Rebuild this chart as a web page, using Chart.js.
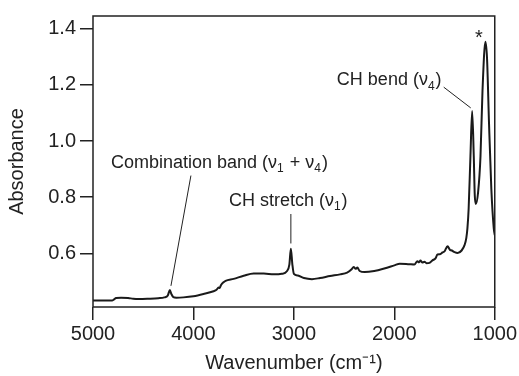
<!DOCTYPE html>
<html>
<head>
<meta charset="utf-8">
<script src="https://cdn.jsdelivr.net/npm/chart.js@4.4.0/dist/chart.umd.min.js"></script>
<style>
  body { margin: 0; background: #fff; }
</style>
</head>
<body>
<canvas id="spectrum" width="519" height="376"></canvas>
<script>
// IR spectrum (wavenumber in cm-1, absorbance)
const wavenumbers = [5000, 4900, 4810, 4790, 4770, 4720, 4650, 4600, 4540, 4450, 4350, 4290, 4255, 4235, 4220, 4200, 4170, 4100, 4000, 3900, 3800, 3770, 3750, 3740, 3725, 3700, 3680, 3600, 3500, 3400, 3300, 3200, 3120, 3070, 3045, 3030, 3015, 3000, 2960, 2900, 2820, 2740, 2640, 2540, 2470, 2425, 2405, 2385, 2368, 2345, 2295, 2200, 2100, 2000, 1945, 1850, 1800, 1770, 1755, 1740, 1720, 1700, 1680, 1650, 1620, 1590, 1570, 1545, 1520, 1500, 1470, 1445, 1428, 1400, 1370, 1330, 1300, 1283, 1272, 1260, 1242, 1225, 1209, 1199, 1189, 1166, 1142, 1122, 1093, 1077, 1057, 1034, 1010, 1000];
const absorbance = [0.432, 0.432, 0.432, 0.436, 0.441, 0.442, 0.441, 0.438, 0.437, 0.438, 0.440, 0.443, 0.450, 0.469, 0.455, 0.444, 0.442, 0.443, 0.447, 0.455, 0.465, 0.470, 0.478, 0.476, 0.487, 0.497, 0.502, 0.509, 0.520, 0.528, 0.528, 0.525, 0.527, 0.536, 0.560, 0.616, 0.560, 0.527, 0.521, 0.512, 0.508, 0.512, 0.519, 0.525, 0.531, 0.543, 0.551, 0.545, 0.549, 0.537, 0.533, 0.537, 0.546, 0.557, 0.563, 0.561, 0.560, 0.572, 0.568, 0.574, 0.567, 0.570, 0.565, 0.566, 0.575, 0.582, 0.596, 0.597, 0.603, 0.607, 0.625, 0.612, 0.610, 0.604, 0.601, 0.610, 0.630, 0.655, 0.690, 0.759, 0.947, 1.107, 0.947, 0.807, 0.776, 0.817, 0.946, 1.179, 1.354, 1.296, 1.062, 0.829, 0.690, 0.665];

const xTicks = [5000, 4000, 3000, 2000, 1000];
const yTicks = [0.6, 0.8, 1.0, 1.2, 1.4];

// band labels: text pieces, anchor (wavenumber, absorbance), leader line
const peakLabels = [
  { parts: ['Combination band (ν', { sub: '1' }, ' + ν', { sub: '4' }, ')'], at: [4821, 0.922], line: [4025, 0.877, 4224, 0.484] },
  { parts: ['CH stretch (ν', { sub: '1' }, ')'], at: [3647, 0.786], line: [3030, 0.740, 3030, 0.635] },
  { parts: ['CH bend (ν', { sub: '4' }, ')'], at: [2572, 1.216], line: [1508, 1.192, 1239, 1.118] },
  { parts: ['*'], at: [1196, 1.367] }
];

const FONT = '"Liberation Sans", Arial, Helvetica, sans-serif';
const INK = '#222';

const points = wavenumbers.map((w, i) => ({ x: w, y: absorbance[i] }));

const frameAndLabels = {
  id: 'frameAndLabels',
  afterDatasetsDraw(chart) {
    const { ctx, chartArea: a, scales: { x, y } } = chart;
    ctx.save();
    ctx.strokeStyle = INK;
    ctx.lineWidth = 1.5;
    ctx.strokeRect(a.left, a.top, a.right - a.left, a.bottom - a.top);

    ctx.fillStyle = INK;
    ctx.lineWidth = 1;
    ctx.textBaseline = 'middle';
    peakLabels.forEach(l => {
      if (l.line) {
        ctx.beginPath();
        ctx.moveTo(x.getPixelForValue(l.line[0]), y.getPixelForValue(l.line[1]));
        ctx.lineTo(x.getPixelForValue(l.line[2]), y.getPixelForValue(l.line[3]));
        ctx.stroke();
      }
      let px = x.getPixelForValue(l.at[0]);
      const py = y.getPixelForValue(l.at[1]);
      l.parts.forEach(p => {
        const sub = typeof p !== 'string';
        const t = sub ? p.sub : p;
        ctx.font = (sub ? 12 : (t === '*' ? 20 : 18)) + 'px ' + FONT;
        ctx.fillText(t, px, sub ? py + 6 : py);
        px += ctx.measureText(t).width + (sub ? 1 : 0);
      });
    });
    ctx.restore();
  }
};

new Chart(document.getElementById('spectrum'), {
  type: 'line',
  data: {
    datasets: [{
      data: points,
      borderColor: '#1a1a1a',
      borderWidth: 2,
      pointRadius: 0,
      fill: false,
      cubicInterpolationMode: 'monotone'
    }]
  },
  options: {
    responsive: false,
    animation: false,
    events: [],
    layout: { padding: { top: 11, right: 24, left: 0, bottom: 0 } },
    plugins: { legend: { display: false }, tooltip: { enabled: false } },
    scales: {
      x: {
        type: 'linear',
        reverse: true,
        min: 1000,
        max: 5000,
        afterBuildTicks: s => { s.ticks = xTicks.map(v => ({ value: v })); },
        afterFit: s => { s.height = 69; },
        border: { display: false },
        grid: { drawOnChartArea: false, tickLength: 13, color: INK, lineWidth: 1.5 },
        ticks: { color: INK, font: { family: FONT, size: 20 }, padding: 2, maxRotation: 0, callback: v => String(v) },
        title: { display: true, text: 'Wavenumber (cm⁻¹)', color: INK, font: { family: FONT, size: 20 }, padding: { top: 0, bottom: 1 } }
      },
      y: {
        min: 0.4087,
        max: 1.4455,
        afterBuildTicks: s => { s.ticks = yTicks.map(v => ({ value: v })); },
        afterFit: s => { s.width = 93; },
        border: { display: false },
        grid: { drawOnChartArea: false, tickLength: 13, color: INK, lineWidth: 1.5 },
        ticks: { color: INK, font: { family: FONT, size: 20 }, padding: 4, callback: v => v.toFixed(1) },
        title: { display: true, text: 'Absorbance', color: INK, font: { family: FONT, size: 20 }, padding: { top: 5, bottom: 0 } }
      }
    }
  },
  plugins: [frameAndLabels]
});
</script>
</body>
</html>
